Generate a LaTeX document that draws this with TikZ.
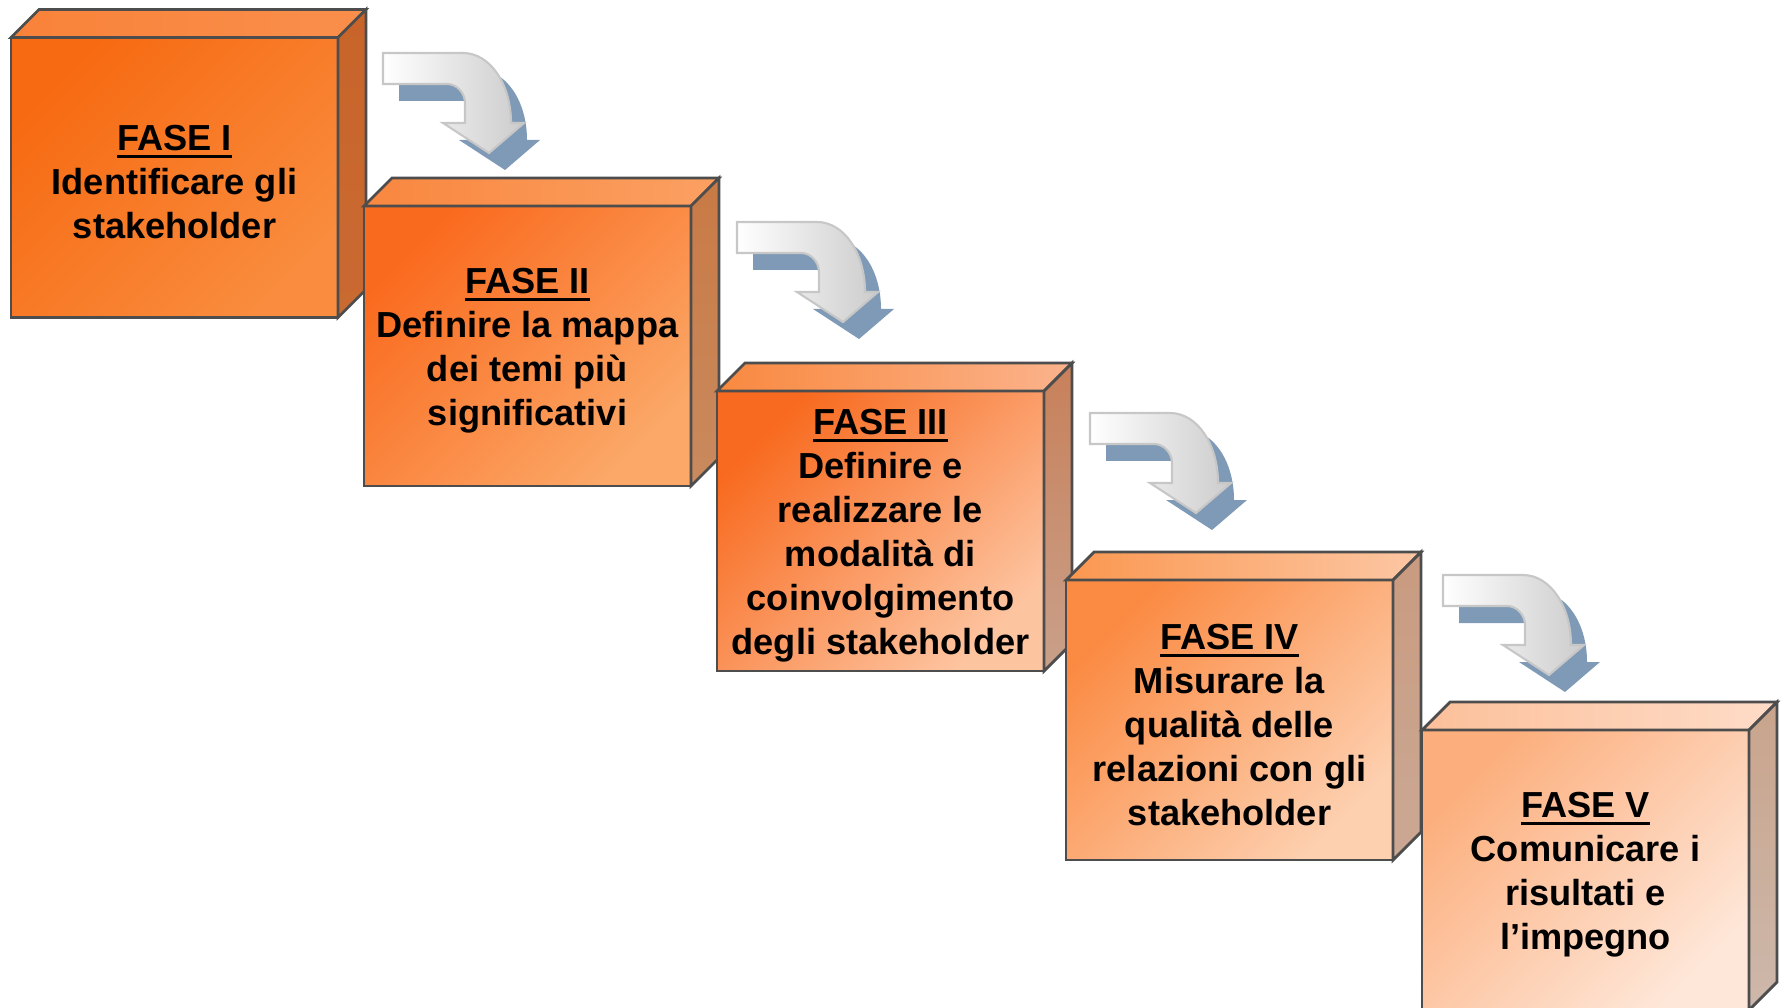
\documentclass[tikz,border=0pt]{standalone}
\usepackage{fontspec}
\setmainfont{Liberation Sans}
\usepackage{tikz}

\definecolor{bordo}{HTML}{4D4D4D}
\definecolor{ombra}{HTML}{7F9AB6}
% fronte, faccia superiore, fianco
\definecolor{fr1a}{HTML}{F76A12}\definecolor{fr1b}{HTML}{F98C3E}
\definecolor{su1a}{HTML}{F98239}\definecolor{su1b}{HTML}{F98F4C}
\definecolor{fi1a}{HTML}{C8642A}\definecolor{fi1b}{HTML}{C96A32}
\definecolor{fr2a}{HTML}{FA6A1E}\definecolor{fr2b}{HTML}{FBA868}
\definecolor{su2a}{HTML}{F9873F}\definecolor{su2b}{HTML}{FBA062}
\definecolor{fi2a}{HTML}{C97A45}\definecolor{fi2b}{HTML}{C98A5E}
\definecolor{fr3a}{HTML}{F86A1F}\definecolor{fr3b}{HTML}{FDC4A0}
\definecolor{su3a}{HTML}{F98940}\definecolor{su3b}{HTML}{FBB38C}
\definecolor{fi3a}{HTML}{C8805A}\definecolor{fi3b}{HTML}{C9A08A}
\definecolor{fr4a}{HTML}{FB8A42}\definecolor{fr4b}{HTML}{FDD0B0}
\definecolor{su4a}{HTML}{FB9750}\definecolor{su4b}{HTML}{FCC7A4}
\definecolor{fi4a}{HTML}{C99B80}\definecolor{fi4b}{HTML}{CBA894}
\definecolor{fr5a}{HTML}{FCAE7C}\definecolor{fr5b}{HTML}{FEE7D9}
\definecolor{su5a}{HTML}{FCC09A}\definecolor{su5b}{HTML}{FEDCC8}
\definecolor{fi5a}{HTML}{C9A48C}\definecolor{fi5b}{HTML}{CDB8AB}

\newcommand{\sottolinea}[1]{\rule{0pt}{10pt}\vtop{\hbox{#1}\kern1.1pt\hrule height0.85pt}}
\tikzset{fase/.style 2 args={rectangle,draw=bordo,line width=0.8pt,top color=#1,bottom color=#2,shading angle=45,
    minimum width=3.27cm,minimum height=2.8cm,inner sep=0pt,outer sep=0pt,align=center,anchor=north west,
    font=\fontsize{10.3}{12.5}\selectfont\bfseries}}
\tikzset{faccia/.style 2 args={draw=bordo,line width=0.8pt,left color=#1,right color=#2}}
\tikzset{fianco/.style 2 args={draw=bordo,line width=0.8pt,top color=#1,bottom color=#2}}
\tikzset{pics/svolta/.style={code={
    \fill[ombra,shift={(0.16,-0.17)}] (0,0) -- (0.80,0) .. controls (1.07,0) and (1.28,-0.31) .. (1.28,-0.70)
        -- (1.41,-0.70) -- (1.06,-1.00) -- (0.60,-0.70) -- (0.82,-0.70) -- (0.82,-0.50)
        .. controls (0.82,-0.40) and (0.74,-0.31) .. (0.64,-0.31) -- (0,-0.31) -- cycle;
    \shadedraw[draw=black!22,line width=0.6pt,left color=white,right color=black!20] (0,0) -- (0.80,0) .. controls (1.07,0) and (1.28,-0.31) .. (1.28,-0.70)
        -- (1.41,-0.70) -- (1.06,-1.00) -- (0.60,-0.70) -- (0.82,-0.70) -- (0.82,-0.50)
        .. controls (0.82,-0.40) and (0.74,-0.31) .. (0.64,-0.31) -- (0,-0.31) -- cycle;
}}}

\begin{document}
\begin{tikzpicture}
    \useasboundingbox (0,0) rectangle (17.87,-10.08);
    \clip (0,0) rectangle (17.87,-10.08);

    % fase I
    \node[fase={fr1a}{fr1b}] (f1) at (0.11,-0.375) {\sottolinea{FASE I}\\Identificare gli\\stakeholder};
    \draw[faccia={su1a}{su1b}] (f1.north west) -- ++(0.28,0.28) -- ([shift={(0.28,0.28)}]f1.north east) -- (f1.north east) -- cycle;
    \draw[fianco={fi1a}{fi1b}] (f1.north east) -- ++(0.28,0.28) -- ([shift={(0.28,0.28)}]f1.south east) -- (f1.south east) -- cycle;

    % fase II
    \node[fase={fr2a}{fr2b}] (f2) at (3.64,-2.06) {\sottolinea{FASE II}\\Definire la mappa\\dei temi più\\significativi};
    \draw[faccia={su2a}{su2b}] (f2.north west) -- ++(0.28,0.28) -- ([shift={(0.28,0.28)}]f2.north east) -- (f2.north east) -- cycle;
    \draw[fianco={fi2a}{fi2b}] (f2.north east) -- ++(0.28,0.28) -- ([shift={(0.28,0.28)}]f2.south east) -- (f2.south east) -- cycle;

    % fase III
    \node[fase={fr3a}{fr3b}] (f3) at (7.17,-3.91) {\sottolinea{FASE III}\\Definire e\\realizzare le\\modalità di\\coinvolgimento\\degli stakeholder};
    \draw[faccia={su3a}{su3b}] (f3.north west) -- ++(0.28,0.28) -- ([shift={(0.28,0.28)}]f3.north east) -- (f3.north east) -- cycle;
    \draw[fianco={fi3a}{fi3b}] (f3.north east) -- ++(0.28,0.28) -- ([shift={(0.28,0.28)}]f3.south east) -- (f3.south east) -- cycle;

    % fase IV
    \node[fase={fr4a}{fr4b}] (f4) at (10.66,-5.80) {\sottolinea{FASE IV}\\Misurare la\\qualità delle\\relazioni con gli\\stakeholder};
    \draw[faccia={su4a}{su4b}] (f4.north west) -- ++(0.28,0.28) -- ([shift={(0.28,0.28)}]f4.north east) -- (f4.north east) -- cycle;
    \draw[fianco={fi4a}{fi4b}] (f4.north east) -- ++(0.28,0.28) -- ([shift={(0.28,0.28)}]f4.south east) -- (f4.south east) -- cycle;

    % fase V
    \node[fase={fr5a}{fr5b}] (f5) at (14.22,-7.30) {\sottolinea{FASE V}\\Comunicare i\\risultati e\\l’impegno};
    \draw[faccia={su5a}{su5b}] (f5.north west) -- ++(0.28,0.28) -- ([shift={(0.28,0.28)}]f5.north east) -- (f5.north east) -- cycle;
    \draw[fianco={fi5a}{fi5b}] (f5.north east) -- ++(0.28,0.28) -- ([shift={(0.28,0.28)}]f5.south east) -- (f5.south east) -- cycle;

    % frecce
    \pic at (3.83,-0.53) {svolta};
    \pic at (7.37,-2.22) {svolta};
    \pic at (10.90,-4.13) {svolta};
    \pic at (14.43,-5.75) {svolta};
\end{tikzpicture}
\end{document}
